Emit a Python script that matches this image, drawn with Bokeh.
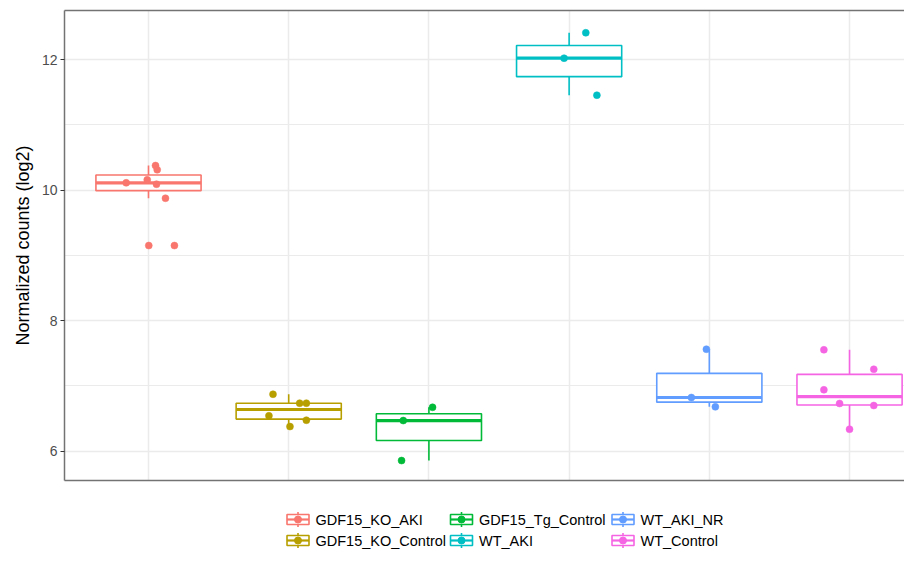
from bokeh.plotting import figure
from bokeh.models import Range1d, FixedTicker, LinearAxis, Grid
from bokeh.layouts import column
from bokeh.embed import file_html
from bokeh.resources import INLINE
from bokeh.core.properties import value

# ---------------- data ----------------
groups = ["GDF15_KO_AKI", "GDF15_KO_Control", "GDF15_Tg_Control",
          "WT_AKI", "WT_AKI_NR", "WT_Control"]
colors = ["#F8766D", "#B79F00", "#00BA38", "#00BFC4", "#619CFF", "#F564E3"]

# box statistics per group
whisker_lo = [9.875, 6.375, 5.854, 11.453, 6.677, 6.334]
q1 = [9.99, 6.489, 6.16, 11.737, 6.749, 6.705]
median = [10.11, 6.636, 6.467, 12.02, 6.82, 6.833]
q3 = [10.23, 6.733, 6.57, 12.215, 7.19, 7.174]
whisker_hi = [10.375, 6.87, 6.67, 12.41, 7.56, 7.551]

# jittered sample points: group index, horizontal jitter, value
pt_group = [0, 0, 0, 0, 0, 0, 0, 0,
            1, 1, 1, 1, 1, 1,
            2, 2, 2,
            3, 3, 3,
            4, 4, 4,
            5, 5, 5, 5, 5, 5]
pt_jitter = [0.050, 0.062, -0.159, -0.009, 0.057, 0.121, 0.002, 0.185,
             -0.112, 0.078, 0.126, -0.141, 0.126, 0.009,
             0.026, -0.183, -0.195,
             0.119, -0.036, 0.198,
             -0.021, -0.128, 0.043,
             -0.183, 0.173, -0.183, -0.071, 0.173, 0.000]
pt_value = [10.375, 10.31, 10.11, 10.156, 10.089, 9.874, 9.149, 9.149,
            6.87, 6.733, 6.733, 6.54, 6.472, 6.375,
            6.67, 6.467, 5.854,
            12.41, 12.02, 11.453,
            7.56, 6.82, 6.677,
            7.551, 7.253, 6.938, 6.728, 6.697, 6.334]

y_major = [6, 8, 10, 12]
y_minor = [7, 9, 11]
y_title = "Normalized counts (log2)"

# ---------------- style / layout ----------------
FONT = "Liberation Sans"
BORDER = "#737373"
GRIDC = "#EBEBEB"
HALF = 0.375
W = 904
FRAME_L = 64
MAIN_H = 482
LEG_H = 67

xs = list(range(1, len(groups) + 1))
left = [x - HALF for x in xs]
right = [x + HALF for x in xs]

p = figure(width=W, height=MAIN_H,
           x_range=Range1d(0.4009, 6.392), y_range=Range1d(5.548, 12.751),
           x_axis_type=None, y_axis_type=None,
           output_backend="svg", toolbar_location=None,
           min_border_left=FRAME_L, min_border_right=0,
           min_border_top=10, min_border_bottom=2)
p.outline_line_color = None
p.background_fill_color = "white"
p.border_fill_color = "white"

yticker = FixedTicker(ticks=y_major, minor_ticks=y_minor)
yaxis = LinearAxis(ticker=yticker, axis_label=y_title)
yaxis.axis_line_color = BORDER
yaxis.axis_line_width = 1.5
yaxis.major_tick_line_color = "#333333"
yaxis.major_tick_line_width = 1.2
yaxis.major_tick_in = 0
yaxis.major_tick_out = 4
yaxis.minor_tick_in = 0
yaxis.minor_tick_out = 0
yaxis.major_label_standoff = 3
yaxis.major_label_text_font = FONT
yaxis.major_label_text_font_size = "14px"
yaxis.major_label_text_color = "#4D4D4D"
yaxis.axis_label_text_font = FONT
yaxis.axis_label_text_font_size = "18px"
yaxis.axis_label_text_font_style = "normal"
yaxis.axis_label_text_color = "black"
yaxis.axis_label_standoff = 6
p.add_layout(yaxis, "left")

for loc in ("above", "below"):
    ax = LinearAxis(ticker=FixedTicker(ticks=[]))
    ax.axis_line_color = BORDER
    ax.axis_line_width = 1.5
    ax.major_tick_in = 0
    ax.major_tick_out = 0
    ax.minor_tick_in = 0
    ax.minor_tick_out = 0
    ax.major_label_standoff = 0
    ax.major_label_text_font_size = "0px"
    p.add_layout(ax, loc)

p.add_layout(Grid(dimension=0, ticker=FixedTicker(ticks=xs),
                  grid_line_color=GRIDC, grid_line_width=1.5))
p.add_layout(Grid(dimension=1, ticker=yticker,
                  grid_line_color=GRIDC, grid_line_width=1.5,
                  minor_grid_line_color=GRIDC, minor_grid_line_width=1))

# whiskers
p.segment(x0=xs, y0=q3, x1=xs, y1=whisker_hi, line_color=colors, line_width=1.6)
p.segment(x0=xs, y0=whisker_lo, x1=xs, y1=q1, line_color=colors, line_width=1.6)
# boxes
p.quad(left=left, right=right, bottom=q1, top=q3, fill_color="white",
       line_color=colors, line_width=1.6)
# medians
p.segment(x0=left, y0=median, x1=right, y1=median, line_color=colors, line_width=3.2)
# points
px = [xs[g] + j for g, j in zip(pt_group, pt_jitter)]
pc = [colors[g] for g in pt_group]
p.scatter(x=px, y=pt_value, size=7, fill_color=pc, line_color=pc, line_width=0.5)

# ---------------- legend (separate strip, page-pixel coordinates) ----------------
lg = figure(width=W, height=LEG_H,
            x_range=Range1d(FRAME_L, W), y_range=Range1d(MAIN_H + LEG_H, MAIN_H),
            x_axis_type=None, y_axis_type=None, output_backend="svg",
            toolbar_location=None, min_border_left=FRAME_L, min_border_right=0,
            min_border_top=0, min_border_bottom=0)
lg.outline_line_color = None
lg.grid.visible = False

col_key_x = [297.5, 461.0, 622.5]
row_y = [519.0, 540.0]
kx, ky, tx = [], [], []
for i in range(len(groups)):
    c, r = divmod(i, 2)
    kx.append(col_key_x[c])
    ky.append(row_y[r])
    tx.append(col_key_x[c] + 17.5)

bw, bh, wh = 11, 5, 7.5
lg.segment(x0=kx, y0=[y - wh for y in ky], x1=kx, y1=[y + wh for y in ky],
           line_color=colors, line_width=1.6)
lg.quad(left=[x - bw for x in kx], right=[x + bw for x in kx],
        top=[y - bh for y in ky], bottom=[y + bh for y in ky],
        fill_color="white", line_color=colors, line_width=1.6)
lg.segment(x0=[x - bw for x in kx], y0=ky, x1=[x + bw for x in kx], y1=ky,
           line_color=colors, line_width=2.2)
lg.scatter(x=kx, y=ky, size=7, fill_color=colors, line_color=colors)
lg.text(x=tx, y=ky, text=groups, text_baseline="middle", text_align="left",
        text_font=value(FONT), text_font_size="14.5px", text_color="#000000")

layout = column(p, lg, spacing=0)
open("out.html", "w").write(file_html(layout, INLINE))
